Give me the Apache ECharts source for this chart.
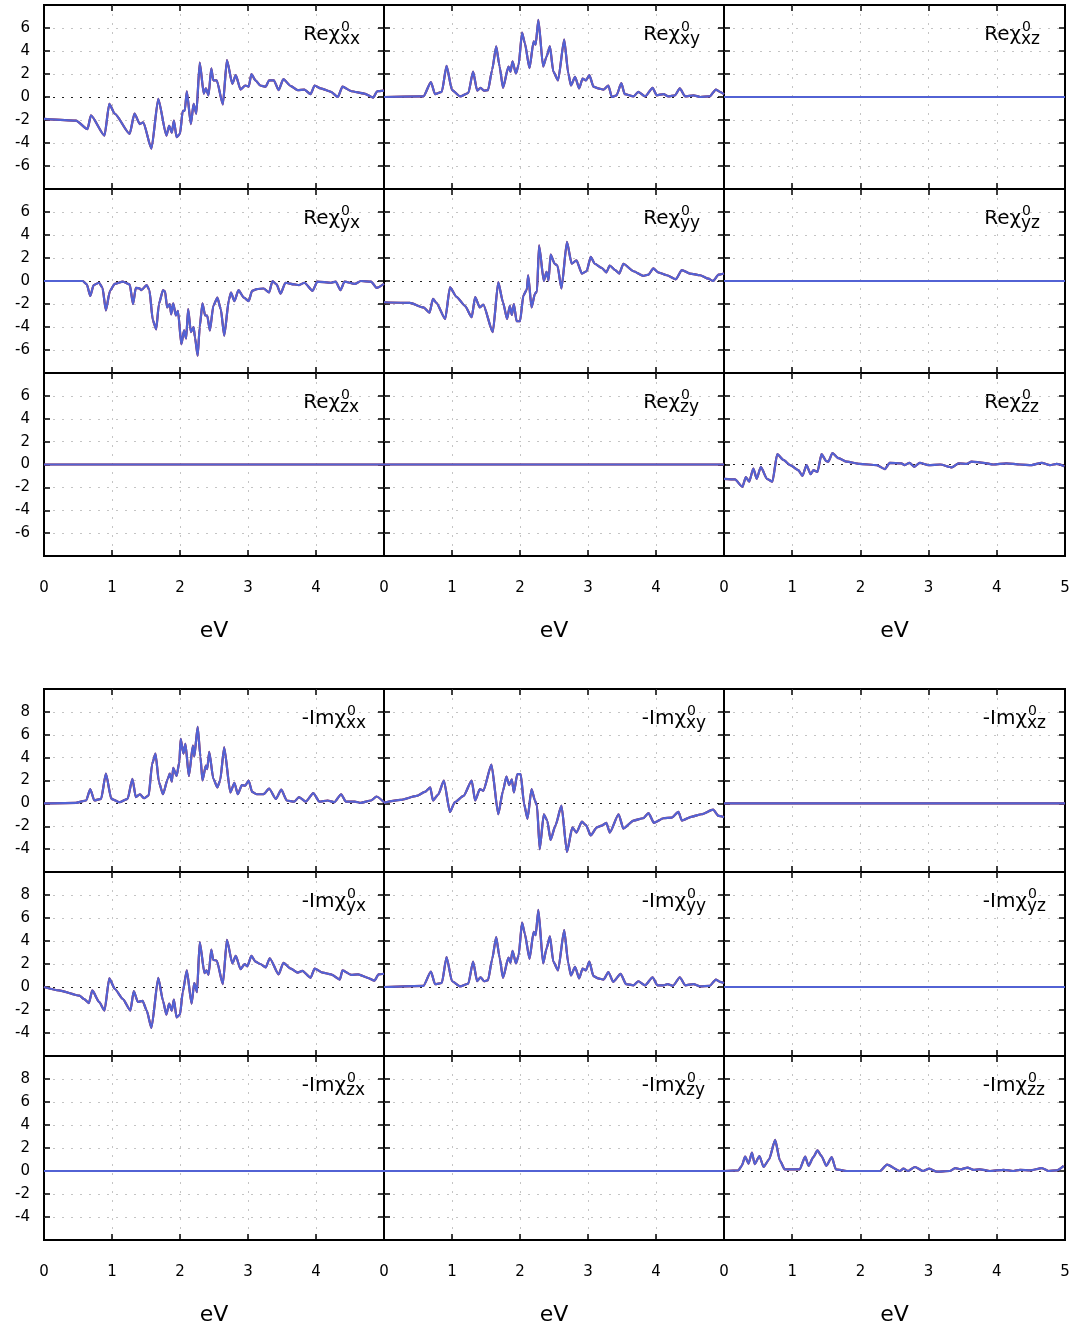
<!DOCTYPE html>
<html>
<head>
<meta charset="utf-8">
<script src="https://cdn.jsdelivr.net/npm/echarts@6/dist/echarts.min.js"></script>
<style>
html, body { margin: 0; padding: 0; background: #fff; }
#main { width: 1075px; height: 1330px; }
</style>
</head>
<body>
<div id="main"></div>
<script>
// 数据: [eV, 值]
var reXX = [[0,-1.9],[0.47,-2.05],[0.64,-2.8],[0.69,-1.6],[0.89,-3.35],[0.96,-0.6],[1.04,-1.45],[1.26,-3.2],[1.33,-1.45],[1.41,-2.35],[1.46,-2.2],[1.58,-4.5],[1.68,-0.15],[1.8,-3.35],[1.84,-2.5],[1.88,-3.1],[1.91,-2.05],[1.95,-3.5],[2.0,-3.2],[2.04,-1.2],[2.07,-1.2],[2.1,0.5],[2.16,-2.35],[2.2,-0.6],[2.24,-1.45],[2.29,3.0],[2.35,0.3],[2.38,0.75],[2.42,0.15],[2.46,2.5],[2.49,1.45],[2.54,1.45],[2.63,-0.65],[2.69,3.2],[2.77,1.15],[2.82,1.9],[2.89,0.65],[2.96,1.0],[3.01,0.9],[3.05,2.0],[3.11,1.45],[3.18,1.0],[3.26,0.9],[3.31,1.45],[3.38,1.45],[3.45,0.6],[3.52,1.55],[3.63,0.95],[3.73,0.6],[3.83,0.65],[3.92,0.25],[3.98,1.0],[4.07,0.75],[4.22,0.45],[4.32,0.0],[4.39,0.9],[4.52,0.5],[4.71,0.3],[4.84,-0.05],[4.9,0.5],[5.0,0.55]];
var reXY = [[0,0],[0.58,0.05],[0.69,1.3],[0.75,0.25],[0.85,0.45],[0.92,2.7],[1.0,0.6],[1.12,0.05],[1.24,0.35],[1.31,2.2],[1.37,0.55],[1.42,0.8],[1.47,0.55],[1.53,0.6],[1.59,2.35],[1.65,4.4],[1.7,2.65],[1.75,0.8],[1.83,2.65],[1.86,2.2],[1.89,3.1],[1.94,2.05],[1.98,2.8],[2.03,5.6],[2.07,4.7],[2.14,2.5],[2.2,4.85],[2.23,4.55],[2.27,6.7],[2.34,2.65],[2.39,3.5],[2.44,4.4],[2.49,2.2],[2.56,1.45],[2.65,5.0],[2.71,2.05],[2.75,1.0],[2.81,1.75],[2.87,0.75],[2.92,1.6],[2.97,1.45],[3.02,1.9],[3.08,0.9],[3.15,0.75],[3.23,0.65],[3.3,1.0],[3.35,0.0],[3.42,0.15],[3.49,1.2],[3.54,0.25],[3.67,0.05],[3.74,0.45],[3.84,0.05],[3.95,0.8],[4.01,0.15],[4.11,0.25],[4.18,0.05],[4.28,0.15],[4.35,0.75],[4.43,0.05],[4.55,0.15],[4.65,0],[4.79,0.05],[4.88,0.65],[4.94,0.45],[5.0,0.25]];
var reYX = [[0,0],[0.57,0],[0.63,-0.3],[0.68,-1.3],[0.73,-0.35],[0.81,-0.15],[0.86,-0.6],[0.91,-2.55],[0.97,-0.85],[1.04,-0.25],[1.16,-0.05],[1.26,-0.3],[1.31,-2.0],[1.35,-0.6],[1.41,-0.65],[1.43,-0.8],[1.51,-0.35],[1.55,-0.8],[1.6,-3.4],[1.65,-4.2],[1.69,-2.0],[1.75,-0.8],[1.78,-0.9],[1.81,-2.3],[1.85,-2.0],[1.87,-2.9],[1.9,-1.95],[1.94,-3.0],[1.97,-2.6],[2.02,-5.5],[2.06,-4.3],[2.09,-5.0],[2.12,-2.45],[2.16,-4.45],[2.2,-4.0],[2.22,-4.9],[2.26,-6.5],[2.29,-4.0],[2.33,-1.95],[2.37,-3.0],[2.4,-3.0],[2.44,-4.3],[2.49,-2.15],[2.55,-1.45],[2.6,-2.45],[2.65,-4.75],[2.72,-1.6],[2.75,-1.0],[2.8,-1.75],[2.86,-0.8],[2.94,-1.45],[3.01,-1.75],[3.06,-0.85],[3.13,-0.7],[3.23,-0.65],[3.31,-1.0],[3.36,0],[3.42,-0.3],[3.48,-1.1],[3.55,-0.15],[3.68,-0.3],[3.75,-0.35],[3.83,-0.15],[3.95,-0.85],[4.02,-0.05],[4.22,-0.15],[4.29,-0.05],[4.36,-0.8],[4.42,-0.05],[4.57,-0.25],[4.66,0],[4.81,-0.05],[4.89,-0.6],[5.0,-0.25]];
var reYY = [[0,-1.85],[0.38,-1.9],[0.58,-2.3],[0.67,-2.75],[0.72,-1.55],[0.77,-1.9],[0.9,-3.3],[0.97,-0.55],[1.07,-1.4],[1.19,-2.15],[1.29,-3.15],[1.34,-1.4],[1.41,-2.3],[1.46,-2.05],[1.6,-4.45],[1.68,-0.1],[1.75,-1.85],[1.81,-3.3],[1.85,-2.15],[1.88,-2.95],[1.91,-2.0],[1.95,-3.5],[2.0,-3.5],[2.05,-1.25],[2.1,-0.75],[2.12,0.5],[2.17,-2.3],[2.22,-1.1],[2.25,-0.9],[2.28,3.1],[2.35,0],[2.39,0.8],[2.42,0.05],[2.45,2.3],[2.51,1.5],[2.55,1.35],[2.61,-0.65],[2.69,3.4],[2.76,1.5],[2.83,1.8],[2.91,0.65],[2.98,0.85],[3.04,2.1],[3.1,1.5],[3.2,1.15],[3.27,0.75],[3.32,1.35],[3.4,0.95],[3.46,0.65],[3.52,1.5],[3.67,0.85],[3.81,0.45],[3.89,0.55],[3.96,1.1],[4.03,0.75],[4.16,0.5],[4.29,0.15],[4.38,0.95],[4.5,0.65],[4.65,0.5],[4.77,0.2],[4.84,0],[4.92,0.55],[5.0,0.65]];
var reZZ = [[0,-1.25],[0.16,-1.3],[0.27,-1.95],[0.32,-1.1],[0.37,-1.5],[0.43,-0.35],[0.48,-1.25],[0.54,-0.2],[0.63,-1.25],[0.71,-1.5],[0.78,0.9],[0.87,0.4],[0.97,-0.05],[1.09,-0.5],[1.15,-1.0],[1.21,-0.05],[1.27,-0.85],[1.31,-0.5],[1.37,-0.65],[1.43,0.9],[1.5,0.3],[1.53,0.25],[1.59,1.0],[1.68,0.55],[1.8,0.25],[1.99,0.05],[2.24,-0.05],[2.36,-0.4],[2.43,0.15],[2.6,0.1],[2.65,-0.05],[2.72,0.15],[2.79,-0.2],[2.87,0.15],[3.0,-0.05],[3.17,0],[3.34,-0.25],[3.44,0.1],[3.56,0.05],[3.63,0.25],[3.8,0.15],[3.95,0],[4.14,0.1],[4.34,0],[4.51,-0.05],[4.66,0.15],[4.78,-0.05],[4.88,0.05],[4.99,-0.15]];
var imXX = [[0,0],[0.47,0.05],[0.62,0.25],[0.68,1.25],[0.74,0.25],[0.84,0.4],[0.91,2.6],[0.99,0.4],[1.11,0.1],[1.23,0.4],[1.3,2.15],[1.35,0.55],[1.41,0.8],[1.47,0.45],[1.54,0.7],[1.59,3.45],[1.64,4.35],[1.69,1.85],[1.75,0.8],[1.82,2.15],[1.85,2.6],[1.88,1.9],[1.9,3.1],[1.95,2.4],[1.99,3.6],[2.01,5.65],[2.05,4.35],[2.08,5.2],[2.13,2.4],[2.19,5.05],[2.21,4.1],[2.26,6.7],[2.3,4.1],[2.33,2.0],[2.38,3.3],[2.4,3.0],[2.43,4.5],[2.49,2.15],[2.55,1.4],[2.59,2.0],[2.65,4.9],[2.74,0.95],[2.8,1.8],[2.85,0.8],[2.91,1.6],[2.96,1.55],[3.01,2.0],[3.06,1.0],[3.13,0.8],[3.23,0.8],[3.31,1.3],[3.41,0.4],[3.49,1.2],[3.57,0.25],[3.68,0.15],[3.75,0.55],[3.85,0.15],[3.96,0.9],[4.05,0.15],[4.17,0.25],[4.27,0.1],[4.37,0.8],[4.44,0.15],[4.57,0.15],[4.66,0.05],[4.81,0.25],[4.89,0.6],[5.0,0.1]];
var imXY = [[0,0.05],[0.24,0.3],[0.48,0.65],[0.6,1.0],[0.68,1.4],[0.72,0.25],[0.8,0.8],[0.88,2.0],[0.97,-0.75],[1.04,0.1],[1.17,0.65],[1.29,2.0],[1.34,0.25],[1.41,1.25],[1.46,1.1],[1.58,3.4],[1.68,-0.95],[1.75,1.1],[1.8,2.35],[1.84,1.6],[1.88,2.1],[1.91,0.95],[1.96,2.55],[2.01,2.55],[2.06,-0.05],[2.11,-1.35],[2.17,1.25],[2.22,0.25],[2.25,-0.2],[2.29,-4.0],[2.35,-0.95],[2.4,-1.5],[2.45,-3.2],[2.52,-1.95],[2.61,-0.2],[2.69,-4.25],[2.77,-2.1],[2.83,-2.55],[2.91,-1.6],[2.97,-1.9],[3.04,-2.8],[3.13,-2.1],[3.2,-1.95],[3.27,-1.7],[3.32,-2.55],[3.45,-0.95],[3.52,-2.2],[3.67,-1.5],[3.81,-1.3],[3.89,-0.85],[3.97,-1.7],[4.11,-1.3],[4.23,-1.25],[4.33,-0.75],[4.38,-1.5],[4.53,-1.15],[4.67,-0.95],[4.84,-0.55],[4.92,-1.1],[5.0,-1.2]];
var imYX = [[0,0],[0.22,-0.3],[0.52,-0.75],[0.59,-1.05],[0.66,-1.4],[0.71,-0.3],[0.81,-1.3],[0.89,-2.05],[0.96,0.75],[1.04,-0.15],[1.16,-1.05],[1.27,-2.05],[1.32,-0.35],[1.38,-1.3],[1.45,-1.2],[1.51,-2.05],[1.58,-3.55],[1.68,0.8],[1.75,-1.2],[1.8,-2.4],[1.84,-1.45],[1.88,-2.05],[1.91,-1.1],[1.95,-2.65],[2.0,-2.4],[2.04,-0.45],[2.1,1.45],[2.17,-1.45],[2.21,0.35],[2.25,-0.45],[2.29,3.9],[2.36,1.2],[2.39,1.45],[2.42,1.05],[2.46,3.25],[2.49,2.35],[2.54,2.3],[2.63,0.25],[2.69,4.1],[2.77,2.05],[2.82,2.7],[2.89,1.55],[2.95,2.0],[2.99,1.8],[3.05,2.7],[3.11,2.2],[3.18,2.0],[3.26,1.7],[3.32,2.5],[3.45,1.1],[3.52,2.1],[3.63,1.6],[3.73,1.25],[3.8,1.4],[3.92,0.8],[3.98,1.6],[4.1,1.25],[4.22,1.1],[4.35,0.65],[4.39,1.45],[4.52,1.05],[4.62,1.1],[4.76,0.8],[4.86,0.55],[4.92,1.1],[5.0,1.15]];
var imYY = [[0,0],[0.58,0.1],[0.69,1.35],[0.75,0.25],[0.85,0.35],[0.92,2.6],[1.0,0.5],[1.12,0.05],[1.24,0.3],[1.31,2.2],[1.37,0.5],[1.42,0.85],[1.47,0.5],[1.53,0.6],[1.59,2.4],[1.65,4.35],[1.7,2.55],[1.75,0.8],[1.83,2.55],[1.86,2.1],[1.89,3.15],[1.94,2.05],[1.98,2.75],[2.03,5.6],[2.07,4.65],[2.14,2.45],[2.2,4.8],[2.23,4.5],[2.27,6.7],[2.34,2.05],[2.39,3.35],[2.44,4.4],[2.49,2.2],[2.56,1.45],[2.65,4.95],[2.71,2.05],[2.75,1.0],[2.81,1.75],[2.87,0.75],[2.92,1.6],[2.97,1.45],[3.02,2.2],[3.08,0.95],[3.15,0.75],[3.23,0.65],[3.3,1.3],[3.37,0.45],[3.48,1.15],[3.56,0.25],[3.67,0.15],[3.74,0.5],[3.84,0.15],[3.95,0.85],[4.02,0.15],[4.11,0.15],[4.17,0.25],[4.25,0.1],[4.35,0.85],[4.43,0.15],[4.55,0.25],[4.65,0.05],[4.79,0.1],[4.88,0.65],[4.94,0.45],[5.0,0.35]];
var imZZ = [[0,0],[0.21,0.05],[0.26,0.45],[0.31,1.25],[0.36,0.65],[0.41,1.6],[0.45,0.6],[0.52,1.3],[0.58,0.35],[0.66,1.0],[0.75,2.7],[0.82,0.9],[0.89,0.15],[1.11,0.15],[1.19,1.25],[1.24,0.45],[1.31,1.2],[1.37,1.8],[1.43,1.3],[1.5,0.45],[1.58,1.2],[1.64,0.15],[1.8,0],[2.29,0],[2.39,0.55],[2.58,0],[2.63,0.2],[2.7,0],[2.8,0.35],[2.92,0],[3.01,0.2],[3.12,-0.05],[3.31,0],[3.39,0.25],[3.48,0.15],[3.57,0.3],[3.66,0.1],[3.75,0.15],[3.9,0],[4.1,0.1],[4.24,0],[4.34,0.1],[4.49,0.05],[4.66,0.25],[4.76,0],[4.88,0.05],[4.98,0.45]];
var flat = [[0,0],[5,0]];

// 刻度
var evTicks = [0, 1, 2, 3, 4, 5];
var reTicks = [-6, -4, -2, 0, 2, 4, 6];
var imTicks = [-4, -2, 0, 2, 4, 6, 8];

var comps = [['xx','xy','xz'],['yx','yy','yz'],['zx','zy','zz']];
var reData = [[reXX, reXY, flat],[reYX, reYY, flat],[flat, flat, reZZ]];
var imData = [[imXX, imXY, flat],[imYX, imYY, flat],[flat, flat, imZZ]];

var colLeft = [44, 384, 724];
var colWidth = [340, 340, 341];
var rowTop = [[5, 189, 373], [689, 872, 1056]];
var rowHeight = [[184, 184, 183], [183, 184, 184]];

var blue = '#5262d4';
var red = '#b01818';
var gray = '#c4c4c4';
var font = 'DejaVu Sans';

var myChart = echarts.init(document.getElementById('main'));

var grids = [], xAxes = [], yAxes = [], series = [], graphics = [];

function tickFmt(list) {
  return function (v) { return list.indexOf(v) >= 0 ? String(v) : ''; };
}

var tickStyle = { show: true, inside: true, length: 6, lineStyle: { color: '#000', width: 1.5 } };

[0, 1].forEach(function (g) {
  var yMin = g === 0 ? -8 : -6;
  var yMax = g === 0 ? 8 : 10;
  var yTicks = g === 0 ? reTicks : imTicks;
  // 最小线不画, 所以颜色序号减一
  var zeroIdx = (0 - yMin) / 2 - 1;
  var splitColors = [];
  for (var k = 0; k < (yMax - yMin) / 2 - 1; k++) splitColors.push(k === zeroIdx ? '#222' : gray);

  for (var r = 0; r < 3; r++) {
    for (var c = 0; c < 3; c++) {
      var gi = grids.length;
      grids.push({
        left: colLeft[c], top: rowTop[g][r],
        width: colWidth[c], height: rowHeight[g][r],
        show: true, borderColor: '#000', borderWidth: 2
      });
      var lastRow = r === 2;
      var xLabels = c === 2 ? evTicks : evTicks.slice(0, 5);
      // 下x轴
      xAxes.push({
        type: 'value', gridIndex: gi, min: 0, max: 5, interval: 1, position: 'bottom',
        axisLine: { show: false, onZero: false },
        axisTick: tickStyle,
        axisLabel: { show: lastRow, margin: 25, color: '#000', fontSize: 15, fontFamily: font, formatter: tickFmt(xLabels) },
        splitLine: { show: true, showMinLine: false, showMaxLine: false, lineStyle: { color: gray, type: [2, 7], width: 1 } },
        name: lastRow ? 'eV' : '', nameLocation: 'middle', nameGap: 64,
        nameTextStyle: { fontSize: 22, color: '#000', fontFamily: font }
      });
      // 上x轴 (镜像刻度)
      xAxes.push({
        type: 'value', gridIndex: gi, min: 0, max: 5, interval: 1, position: 'top',
        axisLine: { show: false, onZero: false },
        axisTick: tickStyle,
        axisLabel: { show: false }, splitLine: { show: false }
      });
      // 左y轴
      yAxes.push({
        type: 'value', gridIndex: gi, min: yMin, max: yMax, interval: 2, position: 'left',
        axisLine: { show: false, onZero: false },
        axisTick: tickStyle,
        axisLabel: { show: c === 0, margin: 14, color: '#000', fontSize: 15, fontFamily: font, formatter: tickFmt(yTicks) },
        splitLine: { show: true, showMinLine: false, showMaxLine: false, lineStyle: { color: splitColors, type: [2, 7], width: 1 } }
      });
      // 右y轴
      yAxes.push({
        type: 'value', gridIndex: gi, min: yMin, max: yMax, interval: 2, position: 'right',
        axisLine: { show: false, onZero: false },
        axisTick: tickStyle,
        axisLabel: { show: false }, splitLine: { show: false }
      });

      var data = (g === 0 ? reData : imData)[r][c];
      [red, blue].forEach(function (col) {
        series.push({
          type: 'line', xAxisIndex: gi * 2, yAxisIndex: gi * 2,
          data: data, showSymbol: false, symbol: 'none', silent: true,
          smooth: 0.2, smoothMonotone: 'x',
          lineStyle: { color: col, width: 2.2 }, itemStyle: { color: col }
        });
      });

      // 面板标签
      var right = colLeft[c] + colWidth[c];
      var top = rowTop[g][r];
      var isRe = g === 0;
      var mainRight = right - (isRe ? 44 : 38);
      graphics.push({
        type: 'text', x: mainRight, y: top + 30, silent: true,
        style: { text: isRe ? 'Reχ' : '-Imχ', font: '20px "DejaVu Sans"', fill: '#000', textAlign: 'right', textVerticalAlign: 'middle' }
      });
      graphics.push({
        type: 'text', x: mainRight + 1, y: top + 22, silent: true,
        style: { text: '0', font: '14px "DejaVu Sans"', fill: '#000', textAlign: 'left', textVerticalAlign: 'middle' }
      });
      graphics.push({
        type: 'text', x: mainRight, y: top + 35, silent: true,
        style: { text: comps[r][c], font: '17px "DejaVu Sans"', fill: '#000', textAlign: 'left', textVerticalAlign: 'middle' }
      });
    }
  }
});

var option = {
  animation: false,
  backgroundColor: '#fff',
  grid: grids,
  xAxis: xAxes,
  yAxis: yAxes,
  series: series,
  graphic: { elements: graphics }
};

myChart.setOption(option);
</script>
</body>
</html>
